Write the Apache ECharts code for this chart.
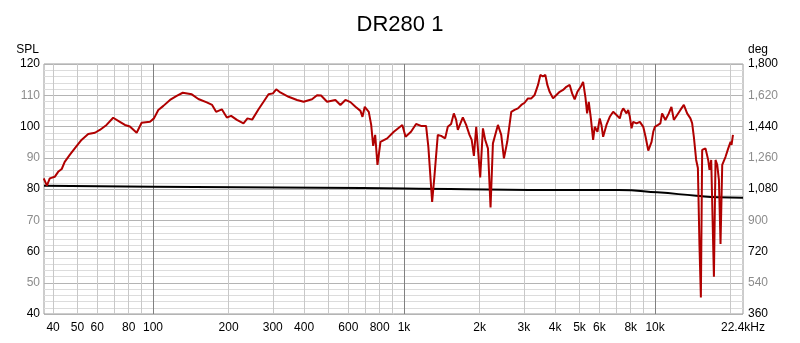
<!DOCTYPE html>
<html>
<head>
<meta charset="utf-8">
<script src="https://cdn.jsdelivr.net/npm/echarts@6/dist/echarts.min.js"></script>
<style>html,body{margin:0;padding:0;background:#fff}#c{width:800px;height:343px}</style>
</head>
<body>
<div id="c"></div>
<script>
// SPL response (Hz, dB)
const freqs = [36.7,37.8,38.8,40.6,41.9,43.3,44.5,46.6,48.8,51.9,55.2,58.7,61.4,65.3,69.4,73.8,77.3,80.9,86.1,90.1,97.3,100.9,105,110,116.9,124.3,131.4,142.7,151.6,163.8,172,178.4,188,196.9,204.8,215.9,229.3,237.9,248.4,263.3,275.7,288.6,300.5,309.7,321.4,346.8,374.8,398.1,430,450.3,467.2,493.6,532.7,557.8,584.1,611.6,640.4,670.5,683,697.6,723.7,739.9,753.5,767.4,783.8,805.7,857.1,910.6,984.5,1014,1066,1117,1169,1224,1250,1282,1294,1321,1363,1405,1458,1494,1540,1579,1613,1638,1715,1768,1823,1860,1898,1939,2011,2062,2106,2159,2211,2260,2366,2439,2500,2577,
  2674,2756,2843,2932,3022,3117,3214,3313,3418,3491,3572,3655,3723,3802,3923,4045,4169,4300,4433,4570,4672,4783,4904,5055,5168,5280,5361,5443,5544,5665,5751,5895,6020,6114,6211,6403,6600,6809,7020,7236,7350,7467,7697,7816,7934,8059,8185,8436,8697,8973,9165,9395,9683,9835,9982,10280,10500,10664,10832,10993,11343,11617,11878,12242,12618,13019,13419,13829,14048,14273,14578,14810,15025,15221,15404,15879,16278,16474,16736,17154,17409,17683,17963,18227,18514,19084,19563,19982,20166,20431];
const spl = [83.4,81.1,83.4,83.9,85.5,86.4,88.7,90.9,93.0,95.7,97.6,98.0,98.9,100.5,102.8,101.5,100.5,100.0,98.0,101.2,101.5,102.6,105.3,106.6,108.5,109.8,110.8,110.3,108.8,107.7,106.9,104.7,105.5,102.9,103.4,102.1,101.0,102.6,102.2,105.5,107.9,110.3,110.6,111.9,110.9,109.5,108.5,107.9,108.7,110.0,109.9,107.9,108.5,106.9,108.5,107.8,106.3,105.0,103.1,106.3,104.7,100.5,93.8,97.3,87.7,95.1,96.2,98.3,100.5,96.7,98.3,100.8,100.2,100.2,93.5,80.7,75.9,83.9,97.3,97.0,96.2,99.9,100.8,104.2,102.1,98.9,102.9,100.5,97.3,95.7,90.6,99.9,83.7,99.4,95.7,93.0,74.1,94.6,100.5,97.3,89.8,95.1,
  104.7,105.3,105.8,106.9,107.6,109.0,109.0,110.1,113.3,116.5,116.0,116.5,113.3,111.1,109.0,110.1,111.1,111.7,112.7,113.3,110.6,108.7,111.1,112.7,114.3,109.3,104.2,107.9,102.9,95.7,99.9,98.3,102.6,100.5,96.7,100.5,103.1,104.7,103.7,102.6,104.7,105.8,104.2,105.3,103.1,99.4,101.5,101.0,101.5,99.9,96.7,92.3,95.1,98.3,99.9,100.5,101.0,104.2,103.1,102.1,104.2,106.3,102.1,103.7,105.3,106.9,104.2,102.6,101.1,96.7,89.3,86.7,62.1,45.3,92.5,93.0,89.3,86.1,89.3,51.9,89.3,87.7,82.9,62.4,87.7,90.3,93.0,95.1,94.1,97.3];

// trace on deg axis (Hz, deg)
const phaseFreqs = [36.8,100,464,1000,3862,7146,10200,14600,17800,22400];
const phaseDeg = [1099,1093,1087,1083,1074,1074,1061,1041,1032,1030];

// axis ticks
const xMinorFreqs = [40,50,60,70,80,90,200,300,400,500,600,700,800,900,2000,3000,4000,5000,6000,7000,8000,9000,20000];
const xMajorFreqs = [100,1000,10000];
const xLabelFreqs = [40,50,60,80,100,200,300,400,600,800,1000,2000,3000,4000,5000,6000,8000,10000,22400];
const xLabelTexts = ['40','50','60','80','100','200','300','400','600','800','1k','2k','3k','4k','5k','6k','8k','10k','22.4kHz'];
const xMin = 36.8, xMax = 22400;
const splMin = 40, splMax = 120, splStep = 10;
const degMin = 360, degMax = 1800, degStep = 180;

const lg = Math.log10;
const FONT = 'Liberation Sans, Arial, sans-serif';

const chart = echarts.init(document.getElementById('c'), null, {renderer: 'canvas'});
chart.setOption({
  animation: false,
  backgroundColor: '#fff',
  title: {
    text: 'DR280 1', left: 'center', top: 9,
    textStyle: {fontFamily: FONT, fontSize: 22, fontWeight: 'normal', color: '#000'}
  },
  grid: {left: 44, right: 57, top: 64, bottom: 29, show: true, borderColor: '#9a9a9a', borderWidth: 1, containLabel: false},
  xAxis: [
    {
      type: 'value', min: lg(xMin), max: lg(xMax),
      axisLine: {show: false},
      axisTick: {show: false, customValues: xMinorFreqs.map(lg)},
      splitLine: {show: true, lineStyle: {color: '#c8c8c8', width: 1}},
      axisLabel: {
        customValues: xLabelFreqs.map(lg), margin: 8,
        fontFamily: FONT, fontSize: 12, color: '#000',
        formatter: function (v) {
          let best = 0, bd = 1e9;
          xLabelFreqs.forEach(function (f, i) { const d = Math.abs(lg(f) - v); if (d < bd) { bd = d; best = i; } });
          return xLabelTexts[best];
        }
      }
    },
    {
      type: 'value', min: lg(xMin), max: lg(xMax), position: 'bottom',
      axisLine: {show: false},
      axisTick: {show: false, customValues: xMajorFreqs.map(lg)},
      axisLabel: {show: false, customValues: xMajorFreqs.map(lg)},
      splitLine: {show: true, lineStyle: {color: '#808080', width: 1}}
    }
  ],
  yAxis: [
    {
      type: 'value', min: splMin, max: splMax, interval: splStep, position: 'left',
      name: 'SPL', nameLocation: 'end', nameGap: 8,
      nameTextStyle: {fontFamily: FONT, fontSize: 12, color: '#000', align: 'right', padding: [0, 5, 0, 0]},
      axisLine: {show: false}, axisTick: {show: false},
      axisLabel: {
        margin: 4, fontFamily: FONT, fontSize: 12,
        color: function (v) { return (Number(v) % 20 === 0) ? '#000' : '#8c8c8c'; }
      },
      splitLine: {show: true, lineStyle: {color: '#b4b4b4', width: 1}},
      minorTick: {show: false, splitNumber: 5},
      minorSplitLine: {show: true, lineStyle: {color: '#dcdcdc', width: 1}}
    },
    {
      type: 'value', min: degMin, max: degMax, interval: degStep, position: 'right',
      name: 'deg', nameLocation: 'end', nameGap: 8,
      nameTextStyle: {fontFamily: FONT, fontSize: 12, color: '#000', align: 'left', padding: [0, 0, 0, 5]},
      axisLine: {show: false}, axisTick: {show: false},
      axisLabel: {
        margin: 5, fontFamily: FONT, fontSize: 12,
        formatter: function (v) { return Number(v).toLocaleString('en-US'); },
        color: function (v) { return (Math.round((Number(v) - degMin) / degStep) % 2 === 0) ? '#000' : '#8c8c8c'; }
      },
      splitLine: {show: false}
    }
  ],
  series: [
    {
      type: 'line', xAxisIndex: 0, yAxisIndex: 1, symbol: 'none', smooth: true, z: 3,
      lineStyle: {color: '#000', width: 2},
      data: phaseFreqs.map(function (f, i) { return [lg(f), phaseDeg[i]]; })
    },
    {
      type: 'line', xAxisIndex: 0, yAxisIndex: 0, symbol: 'none', z: 4,
      lineStyle: {color: '#b00000', width: 2},
      data: freqs.map(function (f, i) { return [lg(f), spl[i]]; })
    }
  ]
});
</script>
</body>
</html>
